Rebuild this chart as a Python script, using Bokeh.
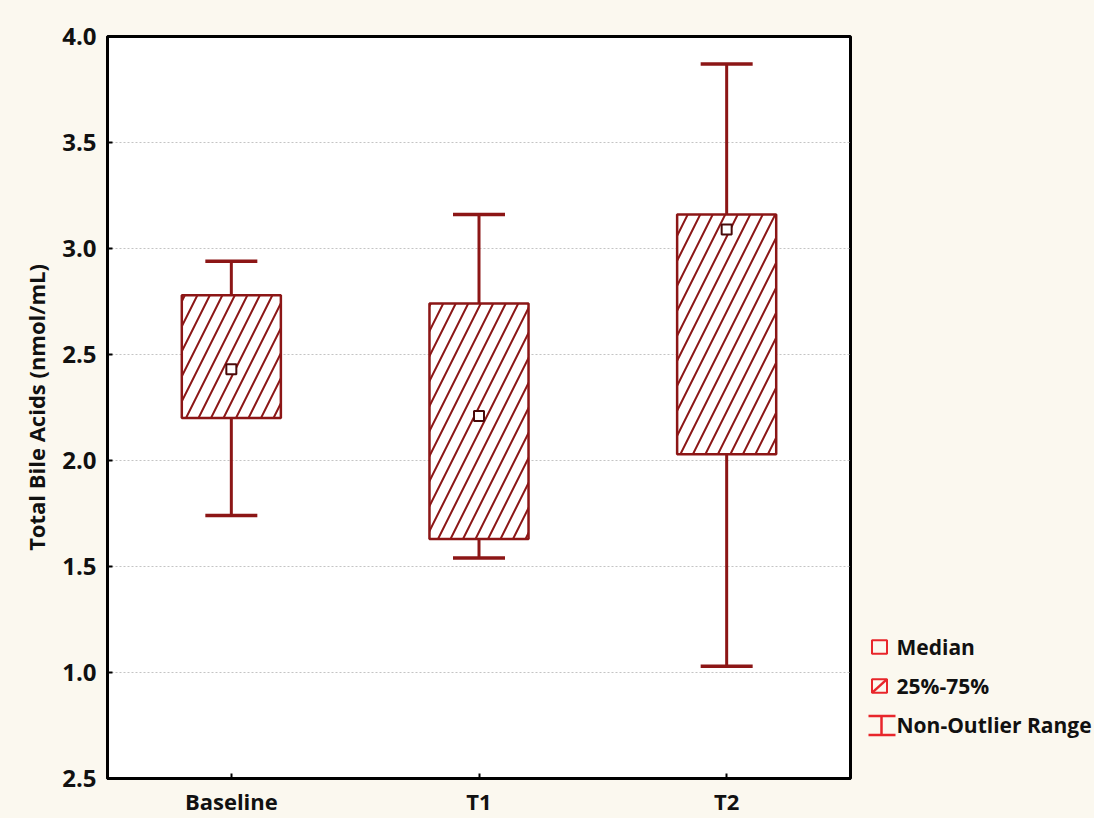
from bokeh.plotting import figure
from bokeh.models import ColumnDataSource, FactorRange, Range1d, FixedTicker, Whisker, TeeHead
from bokeh.layouts import row
from bokeh.core.properties import value
from bokeh.embed import file_html
from bokeh.resources import INLINE

# ---- data ----
categories = ["Baseline", "T1", "T2"]
q1 = [2.20, 1.63, 2.03]
q3 = [2.78, 2.74, 3.16]
medians = [2.43, 2.21, 3.09]
lower = [1.74, 1.54, 1.03]
upper = [2.94, 3.16, 3.87]
y_ticks = [0.5, 1.0, 1.5, 2.0, 2.5, 3.0, 3.5, 4.0]
y_tick_labels = ["2.5", "1.0", "1.5", "2.0", "2.5", "3.0", "3.5", "4.0"]
legend_labels = ["Median", "25%-75%", "Non-Outlier Range"]
y_label = "Total Bile Acids (nmol/mL)"

FONT = "Open Sans"
DARK = "#8c1616"
BRIGHT = "#e8262b"
PAGE_BG = "#fbf8ef"

src = ColumnDataSource(dict(cat=categories, q1=q1, q3=q3, med=medians, lo=lower, hi=upper))

p = figure(x_range=FactorRange(*categories, range_padding=0),
           y_range=Range1d(0.5, 4.0),
           width=858, height=818,
           min_border_left=107, min_border_right=8, min_border_top=36, min_border_bottom=40,
           output_backend="svg", toolbar_location=None)
p.title.visible = False
p.background_fill_color = "white"
p.border_fill_color = PAGE_BG
p.outline_line_color = "black"
p.outline_line_width = 3

# axes
for ax in (p.xaxis[0], p.yaxis[0]):
    ax.axis_line_color = "black"
    ax.axis_line_width = 3
    ax.major_tick_in = 5
    ax.major_tick_out = 0
    ax.major_tick_line_color = "black"
    ax.major_tick_line_width = 2
    ax.minor_tick_line_color = None
    ax.major_label_text_font = FONT
    ax.major_label_text_font_style = "bold"
    ax.major_label_text_color = "#111111"

p.yaxis.ticker = FixedTicker(ticks=y_ticks)
p.yaxis.major_label_overrides = {t: l for t, l in zip(y_ticks, y_tick_labels)}
p.yaxis.major_label_text_font_size = "24px"
p.yaxis.major_label_standoff = 11
p.yaxis.axis_label = y_label
p.yaxis.axis_label_text_font = FONT
p.yaxis.axis_label_text_font_style = "bold"
p.yaxis.axis_label_text_font_size = "22px"
p.yaxis.axis_label_text_color = "#111111"
p.yaxis.axis_label_standoff = 8

p.xaxis.major_label_text_font_size = "22px"
p.xaxis.major_label_standoff = 7
p.xaxis.group_text_font_size = "0px"

p.xgrid.grid_line_color = None
p.ygrid.grid_line_color = "#c4c4c4"
p.ygrid.grid_line_dash = "2 2"
p.ygrid.grid_line_width = 1.2

# whiskers
wu = Whisker(source=src, base="cat", lower="q3", upper="hi",
             line_color=DARK, line_width=3,
             upper_head=TeeHead(size=52, line_color=DARK, line_width=3.5),
             lower_head=None, level="glyph")
wl = Whisker(source=src, base="cat", lower="lo", upper="q1",
             line_color=DARK, line_width=3,
             lower_head=TeeHead(size=52, line_color=DARK, line_width=3.5),
             upper_head=None, level="glyph")
p.add_layout(wu)
p.add_layout(wl)

# boxes
p.vbar(x="cat", bottom="q1", top="q3", width=0.4, source=src,
       fill_color="white", line_color=DARK, line_width=2.5,
       hatch_pattern="/", hatch_color=DARK, hatch_scale=25, hatch_weight=2.0)

# medians
p.scatter(x="cat", y="med", source=src, marker="square", size=10,
          fill_color="white", line_color="#4a0a0a", line_width=2)

# ---- legend panel ----
lg = figure(x_range=Range1d(0, 236), y_range=Range1d(818, 0),
            width=236, height=818, min_border=0,
            x_axis_type=None, y_axis_type=None,
            output_backend="svg", toolbar_location=None)
lg.title.visible = False
lg.grid.visible = False
lg.outline_line_color = None
lg.background_fill_color = PAGE_BG
lg.border_fill_color = PAGE_BG

# median icon
lg.rect(x=[21], y=[673], width=15, height=15, fill_color=None,
        line_color=BRIGHT, line_width=2)
# box icon
lg.rect(x=[21], y=[716], width=15, height=15, fill_color=None,
        line_color=BRIGHT, line_width=2)
lg.segment(x0=[14], y0=[723], x1=[28], y1=[709], line_color=BRIGHT, line_width=2.5)
# whisker icon
lg.segment(x0=[10, 10, 23], y0=[749, 770, 749], x1=[37, 37, 23], y1=[749, 770, 770],
           line_color=BRIGHT, line_width=2.5)

lg.text(x=[38, 38, 38], y=[673, 716, 759], text=legend_labels,
        text_font=value(FONT), text_font_style="bold", text_font_size="21px",
        text_color="#111111", text_baseline="middle", text_align="left")

layout = row(p, lg)
layout.background = PAGE_BG

open("out.html", "w").write(file_html(layout, INLINE))
